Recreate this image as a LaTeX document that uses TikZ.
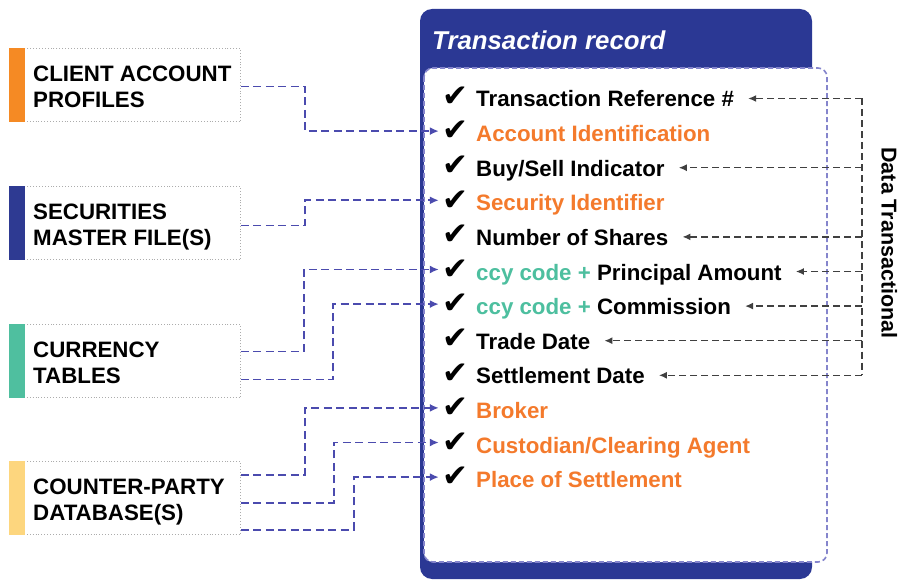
\documentclass[tikz,border=0pt]{standalone}
\usepackage{fontspec}
\setmainfont{Liberation Sans}
\newfontfamily\checkfont{DejaVu Sans}
\usetikzlibrary{arrows.meta,calc}

\definecolor{recblue}{HTML}{2B3894}
\definecolor{bordlav}{HTML}{8585CC}
\definecolor{conblue}{HTML}{4B4BAE}
\definecolor{darkcon}{HTML}{404040}
\definecolor{accorange}{HTML}{F47A2C}
\definecolor{ccyteal}{HTML}{4DBF9F}
\definecolor{barorange}{HTML}{F58A24}
\definecolor{barnavy}{HTML}{2E3A92}
\definecolor{barteal}{HTML}{4FBF9F}
\definecolor{baryellow}{HTML}{FDD67E}

\newcommand\rowfont{\fontsize{22.3}{26}\selectfont\bfseries}

\tikzset{
  srcbox/.style={draw=gray!65, dotted, line width=0.9pt, fill=white, inner sep=0pt,
    minimum width=231pt, minimum height=73pt, anchor=north west},
  srctext/.style={anchor=west, inner sep=0pt, align=left, font=\rowfont},
  itemtxt/.style={anchor=west, inner sep=0pt, text height=17pt, text depth=0pt, font=\rowfont},
  chk/.style={inner sep=0pt, font=\checkfont\fontsize{31}{31}\selectfont},
  bluecon/.style={conblue, line width=1.8pt, dash pattern=on 8pt off 4.5pt,
    -{Latex[length=9pt,width=8pt]}, shorten >=3pt},
  trunkline/.style={darkcon, line width=1.4pt, dash pattern=on 7pt off 4pt},
  blkcon/.style={trunkline, -{Latex[length=8pt,width=7pt]}},
}

\begin{document}
\begin{tikzpicture}[x=1pt,y=-1pt]
\useasboundingbox (0,0) rectangle (900,580);

% record panel: blue frame with dashed white card
\fill[recblue, rounded corners=12pt] (420,9) rectangle (812,579);
\draw[bordlav, fill=white, line width=1.6pt, dash pattern=on 5pt off 3pt, rounded corners=9pt]
  (424,68) rectangle (827,562);
\node[anchor=base west, inner sep=0pt, text=white,
      font=\fontsize{25.8}{26}\selectfont\bfseries\itshape] (title) at (432,50) {Transaction record};

% source boxes
\node[srcbox] (cap) at (9,48) {};
\node[srcbox] (sec) at (9,186) {};
\node[srcbox] (cur) at (9,324) {};
\node[srcbox] (cpd) at (9,461) {};
\fill[barorange] (cap.north west) rectangle ([xshift=16pt]cap.south west);
\fill[barnavy] (sec.north west) rectangle ([xshift=16pt]sec.south west);
\fill[barteal] (cur.north west) rectangle ([xshift=16pt]cur.south west);
\fill[baryellow] (cpd.north west) rectangle ([xshift=16pt]cpd.south west);
\node[srctext] (capt) at ($(cap.west)+(24,1.5)$) {CLIENT ACCOUNT\\PROFILES};
\node[srctext] (sect) at ($(sec.west)+(24,1.5)$) {SECURITIES\\MASTER FILE\smash{(S)}};
\node[srctext] (curt) at ($(cur.west)+(24,1.5)$) {CURRENCY\\TABLES};
\node[srctext] (cpdt) at ($(cpd.west)+(24,1.5)$) {COUNTER-PARTY\\DATABASE\smash{(S)}};

% record fields
\foreach \lbl [count=\k] in {
  {Transaction Reference \#},
  {\color{accorange}Account Identification},
  {Buy/Sell Indicator},
  {\color{accorange}Security Identifier},
  {Number of Shares},
  {{\color{ccyteal}ccy code +} Principal Amount},
  {{\color{ccyteal}ccy code +} Commission},
  {Trade Date},
  {Settlement Date},
  {\color{accorange}Broker},
  {\color{accorange}Custodian/Clearing Agent},
  {\color{accorange}Place of Settlement}} {
  \pgfmathsetmacro\yy{98.5+34.6*(\k-1)}
  \node[chk] (c\k) at (455,\yy-2) {✔};
  \node[itemtxt] (t\k) at (476,\yy) {\lbl};
}

% reference-data feeds
\draw[bluecon] ($(cap.east)+(0,1.5)$) -- ++(64,0) |- (c2.west);
\draw[bluecon] ($(sec.east)+(0,2.5)$) -- ++(64,0) |- (c4.west);
\draw[bluecon] ($(cur.east)+(0,-9.5)$) -- ++(63,0) |- (c6.west);
\draw[bluecon] ($(cur.east)+(0,18.5)$) -- ++(92,0) |- (c7.west);
\draw[bluecon] ($(cpd.east)+(0,-23)$) -- ++(64,0) |- (c10.west);
\draw[bluecon] ($(cpd.east)+(0,5)$) -- ++(93,0) |- (c11.west);
\draw[bluecon] ($(cpd.east)+(0,32)$) -- ++(113,0) |- (c12.west);

% transactional data feeds
\coordinate (trunk) at (862,0);
\draw[trunkline] (trunk |- t1.east) -- (trunk |- t9.east);
\foreach \k in {1,3,5,6,7,8,9} {
  \draw[blkcon] (trunk |- t\k.east) -- ([xshift=14pt]t\k.east);
}
\node[rotate=-90, inner sep=0pt, text height=17pt, text depth=0pt,
      font=\fontsize{21.5}{22}\selectfont\bfseries] (dt) at (890,243) {Data Transactional};
\end{tikzpicture}
\end{document}
